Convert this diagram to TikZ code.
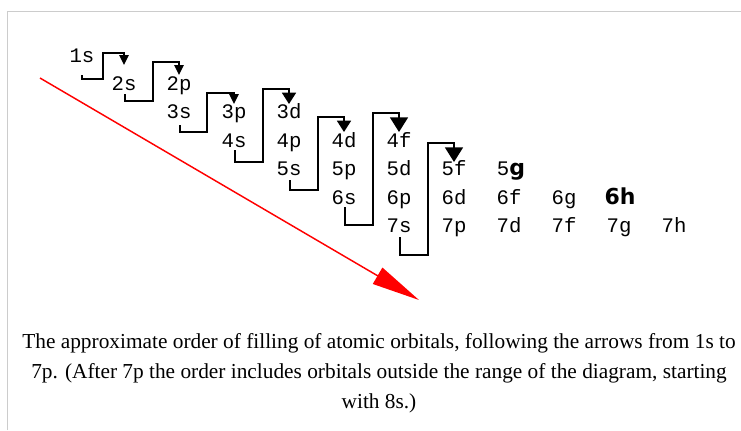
\documentclass[tikz,border=0pt]{standalone}
\usepackage{fontspec}
\setmainfont{Liberation Serif}
\newfontfamily\orbmono{Liberation Mono}
\newfontfamily\orbsans{DejaVu Sans}
\usepackage{xcolor}
\definecolor{cInk}{HTML}{000000}
\definecolor{cAufbau}{HTML}{FF0000}
\definecolor{cFrame}{HTML}{CCCCCC}
\usepackage{tikz}
\usetikzlibrary{arrows.meta,calc}
\tikzset{
  orb-label/.style={inner sep=0pt,anchor=base,font=\orbmono\fontsize{15.5}{18}\selectfont},
  orb-bold/.style={font=\orbsans\bfseries\fontsize{16.5}{19}\selectfont},
  orb-link/.style={-{Triangle[length=7.5pt,width=7pt]},line width=1.2pt,draw=cInk},
  orb-link-mid/.style={orb-link,-{Triangle[length=8.5pt,width=10.5pt]}},
  orb-link-big/.style={orb-link,-{Triangle[length=11pt,width=13.5pt]}},
  aufbau-arrow/.style={-{Triangle[length=36pt,width=14pt]},line width=1.1pt,draw=cAufbau},
  frame-line/.style={draw=cFrame,line width=1pt},
  caption-text/.style={align=center,inner sep=0pt,font=\fontsize{16}{22.5}\selectfont},
}

\begin{document}
\begin{tikzpicture}[x=0.75pt,y=-0.75pt]
  \useasboundingbox (0,0) rectangle (741,430);
  \draw[frame-line] (7.5,430) -- (7.5,11.5) -- (741,11.5);

  % orbital labels, one row per shell
  \node[orb-label] (o1s) at (82,62)    {1s};
  \node[orb-label] (o2s) at (124,90)   {2s};
  \node[orb-label] (o2p) at (179,90)   {2p};
  \node[orb-label] (o3s) at (179,118.5) {3s};
  \node[orb-label] (o3p) at (234,118.5) {3p};
  \node[orb-label] (o3d) at (289,118.5) {3d};
  \node[orb-label] (o4s) at (234,147)  {4s};
  \node[orb-label] (o4p) at (289,147)  {4p};
  \node[orb-label] (o4d) at (344,147)  {4d};
  \node[orb-label] (o4f) at (399,147)  {4f};
  \node[orb-label] (o5s) at (289,175.5) {5s};
  \node[orb-label] (o5p) at (344,175.5) {5p};
  \node[orb-label] (o5d) at (399,175.5) {5d};
  \node[orb-label] (o5f) at (454,175.5) {5f};
  \node[orb-label] (o5g) at (511,175.5) {5{\orbsans\bfseries\fontsize{16.5}{19}\selectfont g}};
  \node[orb-label] (o6s) at (344,204)  {6s};
  \node[orb-label] (o6p) at (399,204)  {6p};
  \node[orb-label] (o6d) at (454,204)  {6d};
  \node[orb-label] (o6f) at (509,204)  {6f};
  \node[orb-label] (o6g) at (564,204)  {6g};
  \node[orb-label,orb-bold] (o6h) at (620,204) {6h};
  \node[orb-label] (o7s) at (399,232.5) {7s};
  \node[orb-label] (o7p) at (454,232.5) {7p};
  \node[orb-label] (o7d) at (509,232.5) {7d};
  \node[orb-label] (o7f) at (564,232.5) {7f};
  \node[orb-label] (o7g) at (619,232.5) {7g};
  \node[orb-label] (o7h) at (674,232.5) {7h};

  % filling order: from the foot of one diagonal to the head of the next
  \draw[orb-link] ($(o1s.base)+(0,13)$) |- ($(o1s.base)+(21,17)$) |- ($(o2s.base)+(0,-37)$) -- ($(o2s.base)+(0,-25)$);
  \draw[orb-link] ($(o2s.base)+(1,4)$) |- ($(o2s.base)+(29,11)$) |- ($(o2p.base)+(0,-28)$) -- ($(o2p.base)+(0,-15)$);
  \draw[orb-link] ($(o3s.base)+(1,6.5)$) |- ($(o3s.base)+(28,13.5)$) |- ($(o3p.base)+(0,-25.5)$) -- ($(o3p.base)+(0,-14.5)$);
  \draw[orb-link-mid] ($(o4s.base)+(1,3)$) |- ($(o4s.base)+(29,15)$) |- ($(o3d.base)+(0,-29.5)$) -- ($(o3d.base)+(0,-14.5)$);
  \draw[orb-link-mid] ($(o5s.base)+(1,4.5)$) |- ($(o5s.base)+(29,14.5)$) |- ($(o4d.base)+(0,-30)$) -- ($(o4d.base)+(0,-15)$);
  \draw[orb-link-big] ($(o6s.base)+(1,3)$) |- ($(o6s.base)+(29,21)$) |- ($(o4f.base)+(0,-34)$) -- ($(o4f.base)+(0,-15)$);
  \draw[orb-link-big] ($(o7s.base)+(1,4.5)$) |- ($(o7s.base)+(29,22.5)$) |- ($(o5f.base)+(0,-32.5)$) -- ($(o5f.base)+(0,-13.5)$);

  \coordinate (aufbau-start) at (40,78);
  \coordinate (aufbau-end) at (419,300);
  \draw[aufbau-arrow] (aufbau-start) -- (aufbau-end);

  \node[caption-text] (caption) at (379,373) {The approximate order of filling of atomic orbitals, following the arrows from 1s to\\7p. (After 7p the order includes orbitals outside the range of the diagram, starting\\with 8s.)};
\end{tikzpicture}
\end{document}
